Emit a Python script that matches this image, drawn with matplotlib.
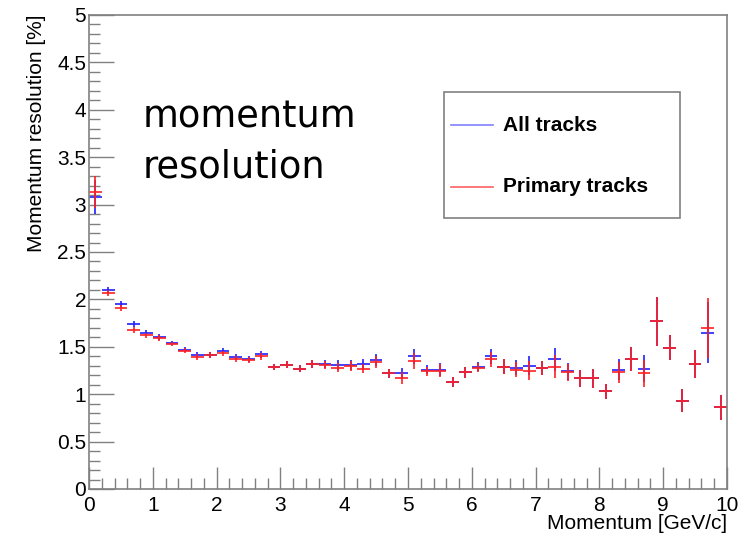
import numpy as np
import matplotlib
matplotlib.use("Agg")
import matplotlib.pyplot as plt
from matplotlib.patches import Rectangle
from matplotlib.ticker import MultipleLocator

# momentum bins (GeV/c), bin half width 0.1
momentum = [0.1, 0.3, 0.5, 0.7, 0.9, 1.1, 1.3, 1.5, 1.7, 1.9,
            2.1, 2.3, 2.5, 2.7, 2.9, 3.1, 3.3, 3.5, 3.7, 3.9,
            4.1, 4.3, 4.5, 4.7, 4.9, 5.1, 5.3, 5.5, 5.7, 5.9,
            6.1, 6.3, 6.5, 6.7, 6.9, 7.1, 7.3, 7.5, 7.7, 7.9,
            8.1, 8.3, 8.5, 8.7, 8.9, 9.1, 9.3, 9.5, 9.7, 9.9]
bin_half = 0.1

# resolution [%]
all_tracks = [3.08, 2.10, 1.95, 1.74, 1.65, 1.60, 1.54, 1.47, 1.41, 1.41,
              1.46, 1.39, 1.37, 1.42, 1.29, 1.31, 1.27, 1.32, 1.32, 1.31,
              1.31, 1.32, 1.36, 1.22, 1.22, 1.40, 1.26, 1.26, 1.13, 1.23,
              1.29, 1.40, 1.29, 1.28, 1.30, 1.28, 1.37, 1.24, 1.17, 1.17,
              1.03, 1.26, 1.37, 1.27, 1.77, 1.49, 0.93, 1.32, 1.65, 0.86]
primary_tracks = [3.13, 2.07, 1.91, 1.68, 1.62, 1.59, 1.53, 1.46, 1.39, 1.41,
                  1.43, 1.37, 1.36, 1.40, 1.29, 1.31, 1.27, 1.32, 1.31, 1.28,
                  1.30, 1.27, 1.34, 1.22, 1.17, 1.35, 1.24, 1.25, 1.13, 1.23,
                  1.28, 1.37, 1.29, 1.26, 1.25, 1.28, 1.29, 1.23, 1.17, 1.17,
                  1.03, 1.23, 1.37, 1.22, 1.77, 1.49, 0.93, 1.32, 1.70, 0.86]
all_err = [0.18, 0.03, 0.03, 0.03, 0.03, 0.03, 0.025, 0.03, 0.03, 0.03,
           0.03, 0.03, 0.03, 0.035, 0.03, 0.035, 0.035, 0.04, 0.04, 0.05,
           0.05, 0.05, 0.06, 0.05, 0.06, 0.08, 0.05, 0.07, 0.055, 0.06,
           0.05, 0.08, 0.08, 0.08, 0.10, 0.075, 0.12, 0.09, 0.09, 0.10,
           0.08, 0.11, 0.13, 0.14, 0.26, 0.13, 0.12, 0.15, 0.32, 0.13]
primary_err = [0.17] + all_err[1:]

plt.rcParams['font.family'] = ['Liberation Sans', 'DejaVu Sans']

fig = plt.figure(figsize=(7.4, 5.35), dpi=100)
ax = fig.add_axes([89 / 740, 1 - 489 / 535, 638 / 740, 474 / 535])

ax.errorbar(momentum, all_tracks, yerr=all_err, xerr=bin_half, fmt='none',
            ecolor='#2020ff', elinewidth=1.2, capsize=0)
ax.errorbar(momentum, primary_tracks, yerr=primary_err, xerr=bin_half, fmt='none',
            ecolor='#ff2020', elinewidth=1.2, capsize=0)

ax.set_xlim(0, 10)
ax.set_ylim(0, 5)
ax.xaxis.set_minor_locator(MultipleLocator(0.2))
ax.yaxis.set_minor_locator(MultipleLocator(0.1))

gray = '#808080'
for s in ax.spines.values():
    s.set_color(gray)
    s.set_linewidth(1.2)
ax.tick_params(which='both', direction='in', color=gray, width=1.0,
               top=False, right=False, labelsize=15)
ax.tick_params(axis='x', which='major', length=16, pad=5)
ax.tick_params(axis='x', which='minor', length=8)
ax.tick_params(axis='y', which='major', length=18, pad=2)
ax.tick_params(axis='y', which='minor', length=8)

ax.set_xticks(range(0, 11))
ax.set_xticklabels([str(v) for v in range(0, 11)])
yt = [0, 0.5, 1, 1.5, 2, 2.5, 3, 3.5, 4, 4.5, 5]
ax.set_yticks(yt)
ax.set_yticklabels(['0', '0.5', '1', '1.5', '2', '2.5', '3', '3.5', '4', '4.5', '5'])

ax.set_ylabel('Momentum resolution [%]', fontsize=15, loc='top', labelpad=8)
fig.text(727 / 740, 6 / 535, 'Momentum [GeV/c]', fontsize=15,
         ha='right', va='baseline')

# legend box
ax.add_patch(Rectangle((0.556, 0.571), 0.37, 0.266, transform=ax.transAxes,
                       fill=False, edgecolor=gray, linewidth=1.2))
ax.plot([0.568, 0.634], [0.767, 0.767], transform=ax.transAxes,
        color='#8080ff', lw=1.2)
ax.plot([0.568, 0.634], [0.638, 0.638], transform=ax.transAxes,
        color='#ff6060', lw=1.2)
ax.text(0.649, 0.767, 'All tracks', transform=ax.transAxes, fontsize=15,
        fontweight='bold', va='center', ha='left')
ax.text(0.649, 0.638, 'Primary tracks', transform=ax.transAxes, fontsize=15,
        fontweight='bold', va='center', ha='left')

fig.text(143 / 740, 1 - 127 / 535, 'momentum', fontsize=26.5,
         family='DejaVu Sans', va='baseline', ha='left')
fig.text(143 / 740, 1 - 177 / 535, 'resolution', fontsize=26.5,
         family='DejaVu Sans', va='baseline', ha='left')

fig.savefig('out.png', dpi=100)
